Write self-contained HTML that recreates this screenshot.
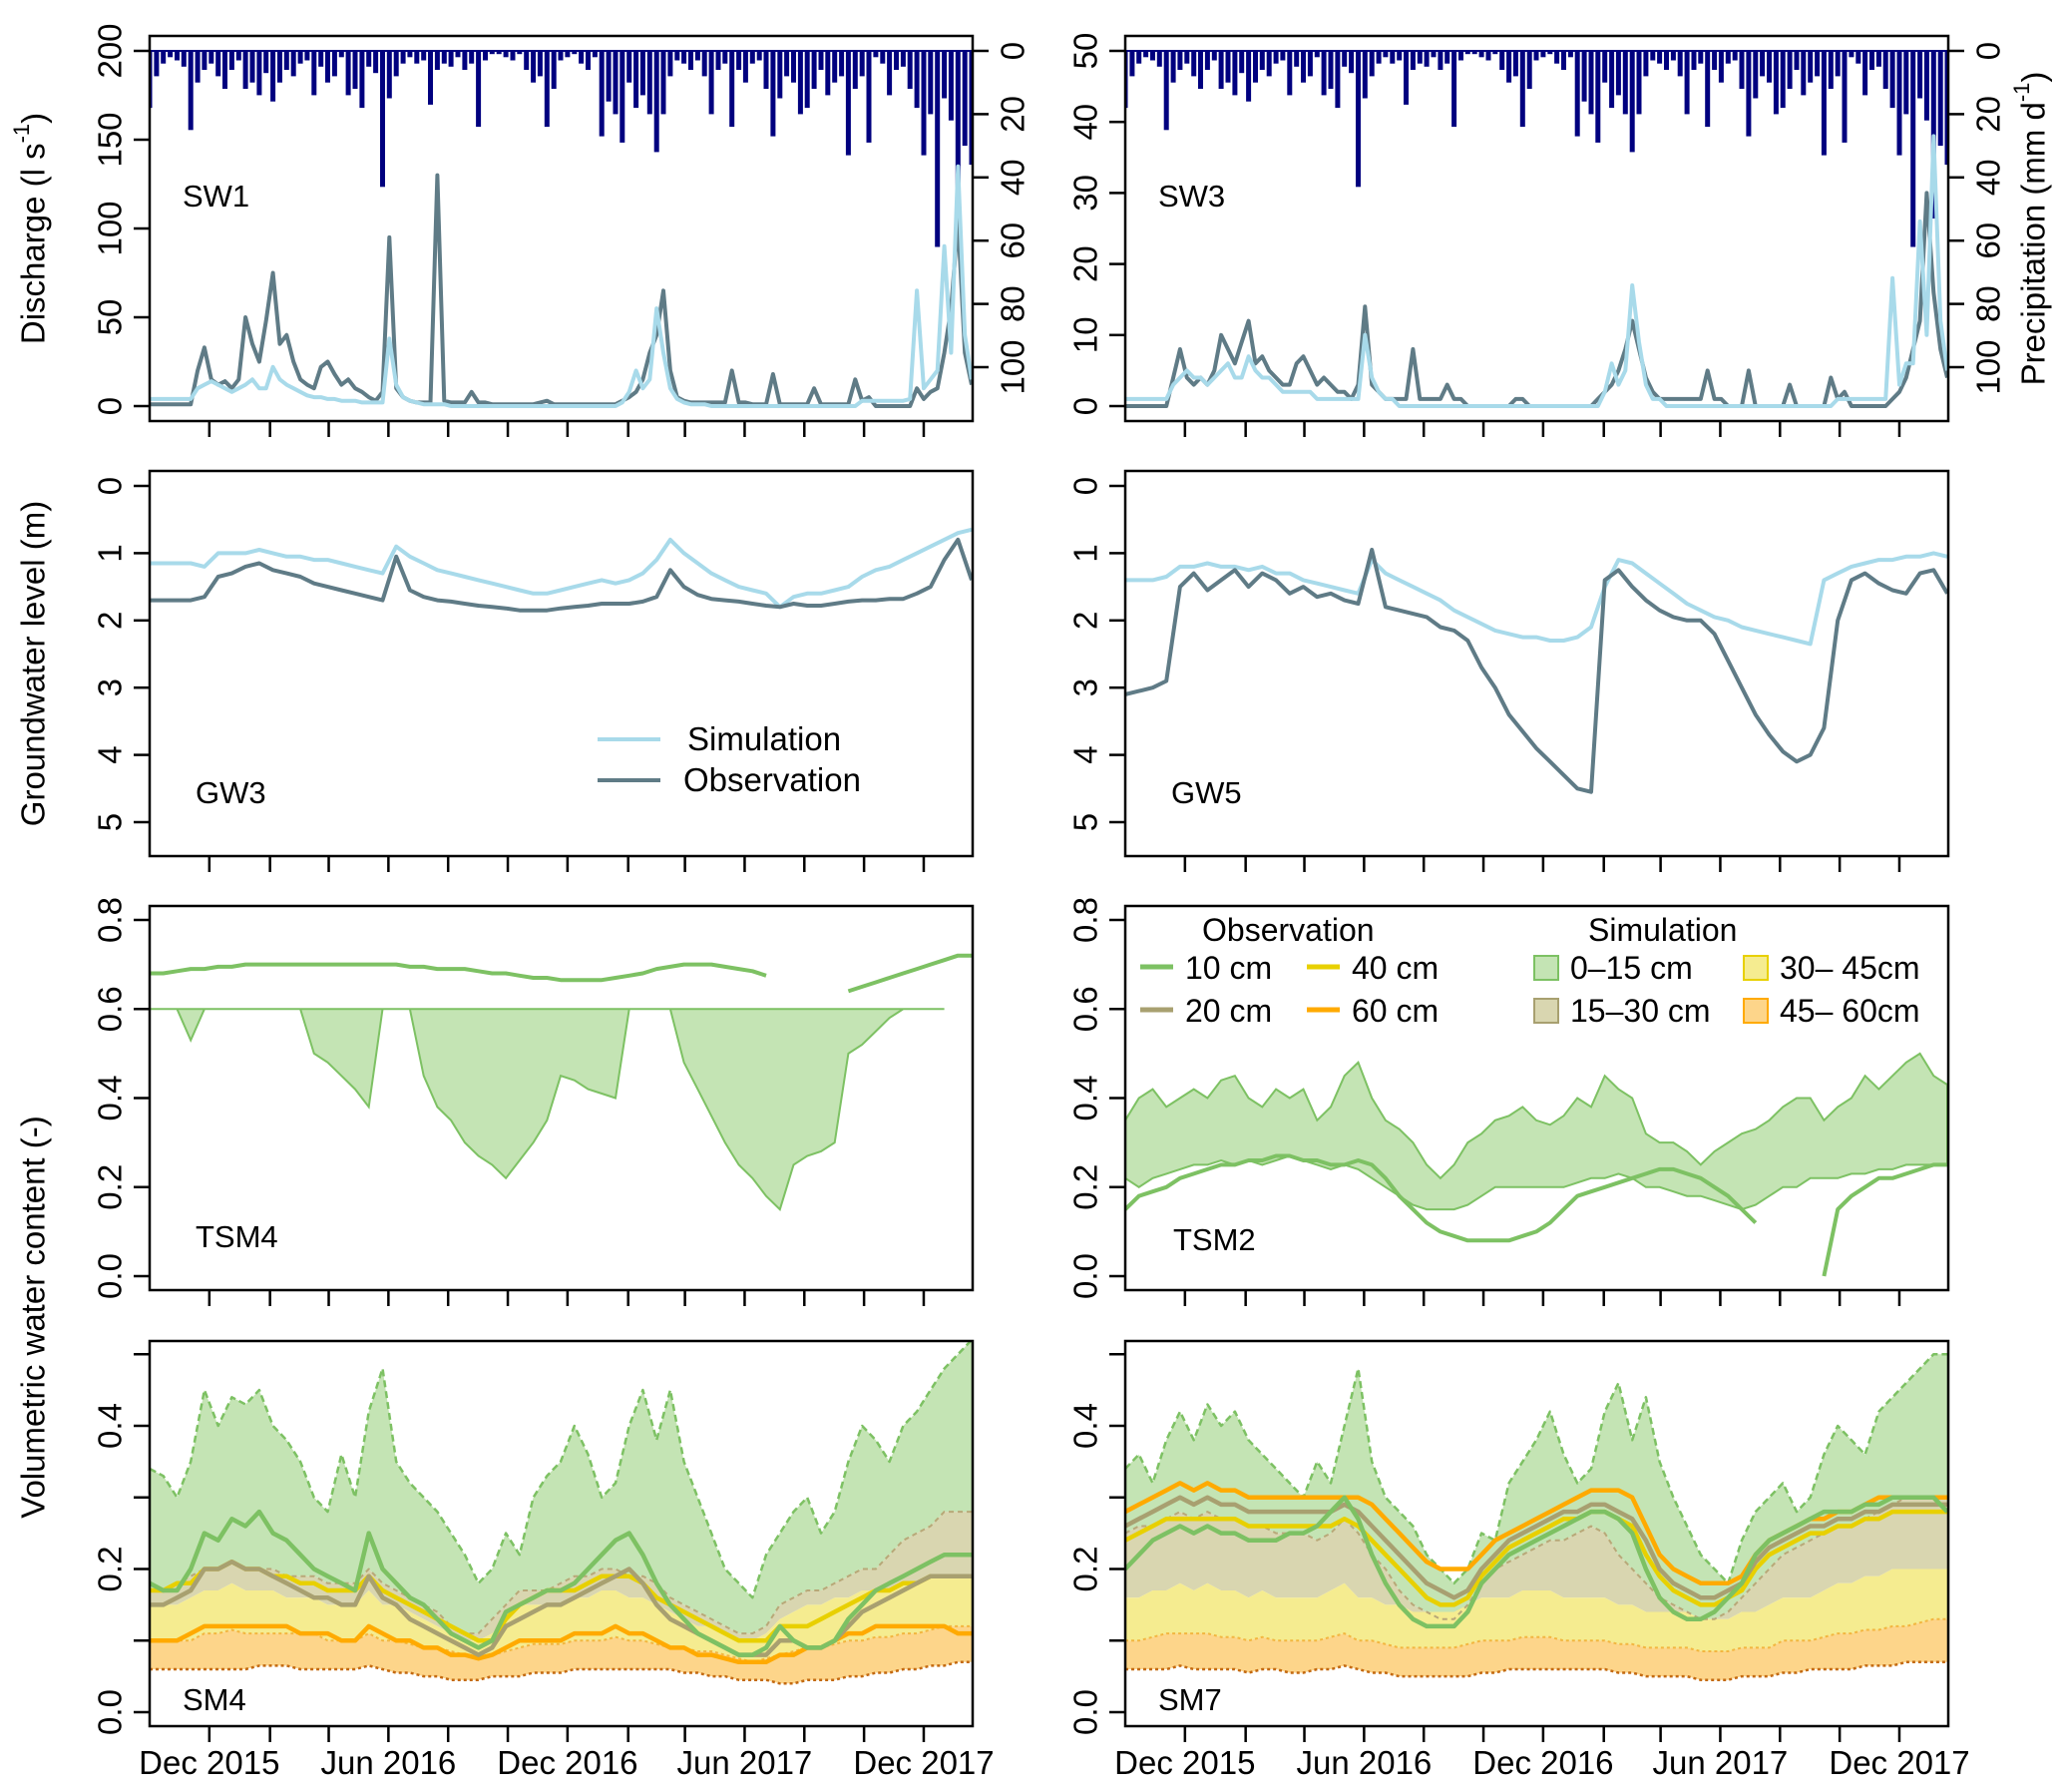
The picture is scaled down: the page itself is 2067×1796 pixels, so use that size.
<!DOCTYPE html>
<html><head><meta charset="utf-8"><style>
html,body{margin:0;padding:0;background:#fff;}
svg{display:block;font-family:"Liberation Sans",Arial,sans-serif;}
</style></head><body>
<svg id="fig" width="2067" height="1796" viewBox="0 0 2067 1796" xmlns="http://www.w3.org/2000/svg"></svg>
<script>
// ---- data (weekly from 1 Oct 2015) ----
const precip=[18,8,4,2,3,5,25,10,6,4,8,12,6,3,12,10,14,7,16,10,6,8,4,3,14,5,10,8,2,14,12,18,5,7,43,15,8,4,2,4,3,17,6,4,5,2,6,4,24,3,1,1,2,3,1,6,10,8,24,12,3,2,1,4,6,2,27,16,20,29,10,18,14,20,32,20,8,3,4,6,3,8,20,6,4,24,6,10,4,3,12,27,15,8,10,20,18,12,6,14,10,8,33,12,8,29,2,4,14,6,5,12,18,33,20,62,15,22,53,30,36];
const sw1Obs=[1,1,1,1,1,1,1,20,33,15,12,14,10,15,50,35,25,48,75,35,40,25,15,12,10,22,25,18,12,15,10,8,5,3,8,95,10,5,3,2,2,2,130,3,2,2,2,8,2,2,1,1,1,1,1,1,1,2,3,1,1,1,1,1,1,1,1,1,1,3,5,8,15,30,40,65,20,5,3,2,2,2,2,2,2,20,2,2,1,1,1,18,1,1,1,1,1,10,1,1,1,1,1,15,3,5,0,0,0,0,0,0,10,4,8,10,30,55,105,30,12];
const sw1Sim=[4,4,4,4,4,4,4,10,12,14,12,10,8,10,12,15,10,10,22,15,12,10,8,6,5,5,4,4,3,3,3,2,2,2,2,38,12,5,3,2,1,1,1,1,0,0,0,0,0,0,0,0,0,0,0,0,0,0,0,0,0,0,0,0,0,0,0,0,0,2,8,20,10,15,55,30,10,4,2,1,1,1,0,0,0,0,0,0,0,0,0,0,0,0,0,0,0,0,0,0,0,0,0,0,3,3,3,3,3,3,3,4,65,10,15,20,90,30,135,40,15];
const sw3Obs=[0,0,0,0,0,0,0,4,8,4,3,4,3,5,10,8,6,9,12,6,7,5,4,3,3,6,7,5,3,4,3,2,2,1,3,14,3,2,1,1,1,1,8,1,1,1,1,3,1,1,0,0,0,0,0,0,0,1,1,0,0,0,0,0,0,0,0,0,0,1,2,3,5,8,12,8,4,2,1,1,1,1,1,1,1,5,1,1,0,0,0,5,0,0,0,0,0,3,0,0,0,0,0,4,1,2,0,0,0,0,0,0,1,2,4,8,12,30,16,8,4];
const sw3Sim=[1,1,1,1,1,1,1,3,4,5,4,4,3,4,5,6,4,4,7,5,4,4,3,2,2,2,2,2,1,1,1,1,1,1,1,10,4,2,1,1,0,0,0,0,0,0,0,0,0,0,0,0,0,0,0,0,0,0,0,0,0,0,0,0,0,0,0,0,0,0,2,6,3,5,17,9,3,1,1,0,0,0,0,0,0,0,0,0,0,0,0,0,0,0,0,0,0,0,0,0,0,0,0,0,1,1,1,1,1,1,1,1,18,3,6,6,26,10,38,12,5];
// ---- data (fortnightly from 1 Oct 2015) ----
const gw3Sim=[1.15,1.15,1.15,1.15,1.2,1.0,1.0,1.0,0.95,1.0,1.05,1.05,1.1,1.1,1.15,1.2,1.25,1.3,0.9,1.05,1.15,1.25,1.3,1.35,1.4,1.45,1.5,1.55,1.6,1.6,1.55,1.5,1.45,1.4,1.45,1.4,1.3,1.1,0.8,1.0,1.15,1.3,1.4,1.5,1.55,1.6,1.8,1.65,1.6,1.6,1.55,1.5,1.35,1.25,1.2,1.1,1.0,0.9,0.8,0.7,0.65];
const gw3Obs=[1.7,1.7,1.7,1.7,1.65,1.35,1.3,1.2,1.15,1.25,1.3,1.35,1.45,1.5,1.55,1.6,1.65,1.7,1.05,1.55,1.65,1.7,1.72,1.75,1.78,1.8,1.82,1.85,1.85,1.85,1.82,1.8,1.78,1.75,1.75,1.75,1.72,1.65,1.25,1.5,1.62,1.68,1.7,1.72,1.75,1.78,1.8,1.75,1.78,1.78,1.75,1.72,1.7,1.7,1.68,1.68,1.6,1.5,1.1,0.8,1.4];
const gw5Sim=[1.4,1.4,1.4,1.35,1.2,1.2,1.15,1.2,1.2,1.25,1.2,1.3,1.3,1.4,1.45,1.5,1.55,1.6,1.1,1.3,1.4,1.5,1.6,1.7,1.85,1.95,2.05,2.15,2.2,2.25,2.25,2.3,2.3,2.25,2.1,1.5,1.1,1.15,1.3,1.45,1.6,1.75,1.85,1.95,2.0,2.1,2.15,2.2,2.25,2.3,2.35,1.4,1.3,1.2,1.15,1.1,1.1,1.05,1.05,1.0,1.05];
const gw5Obs=[3.1,3.05,3.0,2.9,1.5,1.3,1.55,1.4,1.25,1.5,1.3,1.4,1.6,1.5,1.65,1.6,1.7,1.75,0.95,1.8,1.85,1.9,1.95,2.1,2.15,2.3,2.7,3.0,3.4,3.65,3.9,4.1,4.3,4.5,4.55,1.4,1.25,1.5,1.7,1.85,1.95,2.0,2.0,2.2,2.6,3.0,3.4,3.7,3.95,4.1,4.0,3.6,2.0,1.4,1.3,1.45,1.55,1.6,1.3,1.25,1.6];
const tsm4Obs=[.68,.68,.685,.69,.69,.695,.695,.7,.7,.7,.7,.7,.7,.7,.7,.7,.7,.7,.7,.695,.695,.69,.69,.69,.685,.68,.68,.675,.67,.67,.665,.665,.665,.665,.67,.675,.68,.69,.695,.7,.7,.7,.695,.69,.685,.675,null,null,null,null,null,.64,.65,.66,.67,.68,.69,.70,.71,.72,.72];
const tsm4SimTop=[.6,.6,.6,.6,.6,.6,.6,.6,.6,.6,.6,.6,.6,.6,.6,.6,.6,.6,.6,.6,.6,.6,.6,.6,.6,.6,.6,.6,.6,.6,.6,.6,.6,.6,.6,.6,.6,.6,.6,.6,.6,.6,.6,.6,.6,.6,.6,.6,.6,.6,.6,.6,.6,.6,.6,.6,.6,.6,.6,null,null];
const tsm4SimLow=[.6,.6,.6,.53,.6,.6,.6,.6,.6,.6,.6,.6,.5,.48,.45,.42,.38,.6,.6,.6,.45,.38,.35,.3,.27,.25,.22,.26,.3,.35,.45,.44,.42,.41,.40,.6,.6,.6,.6,.48,.42,.36,.30,.25,.22,.18,.15,.25,.27,.28,.30,.5,.52,.55,.58,.6,.6,.6,.6,null,null];
const tsm2SimTop=[.35,.4,.42,.38,.4,.42,.4,.44,.45,.4,.38,.42,.4,.42,.35,.38,.45,.48,.4,.35,.33,.3,.25,.22,.25,.3,.32,.35,.36,.38,.35,.34,.36,.4,.38,.45,.42,.4,.32,.3,.3,.28,.25,.28,.3,.32,.33,.35,.38,.4,.4,.35,.38,.4,.45,.42,.45,.48,.5,.45,.43];
const tsm2SimLow=[.22,.2,.22,.23,.24,.25,.25,.26,.25,.26,.25,.26,.27,.26,.25,.24,.25,.24,.22,.2,.18,.16,.15,.15,.15,.16,.18,.2,.2,.2,.2,.2,.2,.21,.22,.22,.23,.22,.2,.2,.19,.18,.18,.17,.16,.15,.16,.18,.2,.2,.22,.22,.22,.23,.23,.24,.24,.25,.25,.25,.25];
const tsm2Obs=[.15,.18,.19,.2,.22,.23,.24,.25,.25,.26,.26,.27,.27,.26,.26,.25,.25,.26,.25,.22,.18,.15,.12,.1,.09,.08,.08,.08,.08,.09,.1,.12,.15,.18,.19,.2,.21,.22,.23,.24,.24,.23,.22,.2,.18,.15,.12,null,null,null,null,.0,.15,.18,.2,.22,.22,.23,.24,.25,.25];
const sm4Lo=[.06,.06,.06,.06,.06,.06,.06,.06,.065,.065,.065,.06,.06,.06,.06,.06,.065,.06,.055,.055,.05,.05,.045,.045,.045,.05,.05,.05,.055,.055,.055,.06,.06,.06,.06,.06,.06,.06,.06,.055,.055,.05,.05,.045,.045,.045,.04,.04,.045,.045,.045,.05,.05,.055,.055,.06,.06,.065,.065,.07,.07];
const sm4S60=[.1,.1,.1,.1,.11,.11,.115,.11,.11,.11,.11,.11,.11,.1,.1,.1,.11,.1,.1,.095,.09,.09,.085,.08,.075,.08,.085,.09,.095,.095,.095,.1,.1,.1,.105,.1,.1,.095,.09,.09,.085,.085,.08,.075,.07,.075,.08,.085,.09,.09,.095,.1,.1,.105,.105,.11,.11,.115,.12,.12,.12];
const sm4S45=[.15,.15,.15,.16,.17,.17,.18,.17,.17,.17,.16,.16,.16,.15,.15,.15,.17,.15,.15,.14,.13,.12,.11,.1,.1,.11,.13,.15,.15,.15,.15,.16,.16,.17,.17,.16,.16,.15,.14,.13,.12,.12,.11,.1,.1,.11,.13,.14,.15,.15,.16,.16,.17,.17,.17,.18,.18,.19,.19,.19,.19];
const sm4S30=[.17,.17,.18,.19,.2,.2,.21,.2,.2,.2,.19,.19,.19,.18,.18,.18,.2,.18,.17,.16,.15,.14,.12,.11,.11,.13,.15,.17,.17,.17,.18,.19,.19,.2,.2,.19,.19,.18,.16,.15,.14,.13,.12,.11,.11,.12,.15,.16,.17,.17,.18,.19,.2,.2,.22,.24,.25,.26,.28,.28,.28];
const sm4S15=[.34,.33,.3,.35,.45,.4,.44,.43,.45,.4,.38,.35,.3,.28,.36,.3,.42,.48,.35,.32,.3,.28,.25,.22,.18,.2,.25,.22,.3,.33,.35,.4,.36,.3,.32,.4,.45,.38,.45,.35,.3,.25,.2,.18,.16,.22,.25,.28,.3,.25,.28,.35,.4,.38,.35,.4,.42,.45,.48,.5,.52];
const sm4O10=[.18,.17,.17,.2,.25,.24,.27,.26,.28,.25,.24,.22,.2,.19,.18,.17,.25,.2,.18,.16,.15,.13,.11,.1,.09,.1,.14,.15,.16,.17,.17,.18,.2,.22,.24,.25,.22,.18,.15,.13,.11,.1,.09,.08,.08,.09,.12,.1,.09,.09,.1,.13,.15,.17,.18,.19,.2,.21,.22,.22,.22];
const sm4O20=[.15,.15,.16,.17,.2,.2,.21,.2,.2,.19,.18,.17,.16,.16,.15,.15,.19,.16,.15,.13,.12,.11,.1,.09,.08,.09,.12,.13,.14,.15,.15,.16,.17,.18,.19,.2,.18,.15,.13,.12,.11,.1,.09,.08,.08,.08,.1,.1,.09,.09,.1,.12,.14,.15,.16,.17,.18,.19,.19,.19,.19];
const sm4O40=[.17,.17,.18,.18,.2,.2,.21,.2,.2,.19,.19,.18,.18,.17,.17,.17,.19,.17,.16,.15,.14,.13,.12,.11,.1,.1,.13,.15,.16,.17,.17,.17,.18,.19,.19,.19,.18,.16,.15,.14,.13,.12,.11,.1,.1,.1,.12,.12,.12,.13,.14,.15,.16,.17,.17,.18,.18,.19,.19,.19,.19];
const sm4O60=[.1,.1,.1,.11,.12,.12,.12,.12,.12,.12,.12,.11,.11,.11,.1,.1,.12,.11,.1,.1,.09,.09,.08,.08,.075,.08,.09,.1,.1,.1,.1,.11,.11,.11,.12,.11,.11,.1,.09,.09,.08,.08,.075,.07,.07,.07,.08,.08,.09,.09,.1,.11,.11,.12,.12,.12,.12,.12,.12,.11,.11];
const sm7Lo=[.06,.06,.06,.06,.065,.06,.06,.06,.06,.055,.06,.06,.055,.055,.06,.06,.065,.06,.055,.055,.05,.05,.05,.05,.05,.05,.055,.055,.06,.06,.06,.06,.06,.06,.06,.06,.055,.055,.05,.05,.05,.05,.045,.045,.045,.05,.05,.05,.055,.055,.06,.06,.06,.06,.065,.065,.065,.07,.07,.07,.07];
const sm7S60=[.1,.1,.105,.11,.11,.11,.11,.105,.105,.1,.105,.1,.1,.1,.1,.105,.11,.1,.1,.095,.09,.09,.09,.09,.09,.095,.1,.1,.1,.105,.105,.105,.1,.1,.1,.1,.095,.095,.09,.09,.09,.09,.085,.085,.085,.09,.09,.09,.1,.1,.1,.105,.11,.11,.115,.115,.12,.12,.125,.13,.13];
const sm7S45=[.16,.16,.17,.17,.18,.17,.18,.17,.17,.16,.17,.16,.16,.16,.16,.17,.18,.16,.16,.15,.15,.14,.14,.14,.14,.15,.16,.16,.16,.17,.17,.17,.16,.16,.16,.16,.15,.15,.14,.14,.14,.14,.13,.13,.13,.14,.14,.15,.16,.16,.16,.17,.18,.18,.19,.19,.2,.2,.2,.2,.2];
const sm7S30=[.25,.26,.26,.27,.28,.27,.28,.27,.27,.26,.26,.25,.25,.25,.24,.25,.27,.25,.22,.2,.17,.15,.14,.13,.13,.15,.18,.2,.21,.22,.23,.24,.24,.25,.26,.25,.22,.2,.18,.16,.15,.14,.13,.13,.14,.16,.18,.2,.22,.23,.24,.25,.26,.26,.27,.28,.29,.3,.3,.3,.3];
const sm7S15=[.34,.36,.32,.38,.42,.38,.43,.4,.42,.38,.36,.34,.32,.3,.35,.32,.4,.48,.35,.3,.28,.26,.22,.2,.18,.2,.25,.24,.32,.35,.38,.42,.36,.32,.34,.42,.46,.38,.44,.35,.3,.26,.22,.2,.18,.24,.28,.3,.32,.28,.3,.36,.4,.38,.36,.42,.44,.46,.48,.5,.5];
const sm7O60=[.28,.29,.3,.31,.32,.31,.32,.31,.31,.3,.3,.3,.3,.3,.3,.3,.3,.3,.29,.27,.25,.23,.21,.2,.2,.2,.22,.24,.25,.26,.27,.28,.29,.3,.31,.31,.31,.3,.26,.22,.2,.19,.18,.18,.18,.19,.22,.24,.25,.26,.27,.27,.28,.28,.29,.3,.3,.3,.3,.3,.3];
const sm7O20=[.26,.27,.28,.29,.3,.29,.3,.29,.29,.28,.28,.28,.28,.28,.28,.28,.29,.28,.26,.24,.22,.2,.18,.17,.16,.17,.2,.22,.24,.25,.26,.27,.28,.28,.29,.29,.28,.27,.24,.2,.18,.17,.16,.16,.17,.18,.21,.23,.24,.25,.26,.26,.27,.27,.28,.28,.29,.29,.29,.29,.29];
const sm7O40=[.24,.25,.26,.27,.27,.27,.27,.27,.27,.26,.26,.26,.26,.26,.26,.26,.27,.26,.24,.22,.2,.18,.16,.15,.15,.16,.19,.21,.23,.24,.25,.26,.27,.27,.28,.28,.27,.26,.22,.19,.17,.16,.15,.15,.16,.17,.2,.22,.23,.24,.25,.25,.26,.26,.27,.27,.28,.28,.28,.28,.28];
const sm7O10=[.2,.22,.24,.25,.26,.25,.26,.25,.25,.24,.24,.24,.25,.25,.26,.28,.3,.27,.22,.18,.15,.13,.12,.12,.12,.14,.18,.2,.22,.23,.24,.25,.26,.27,.28,.28,.27,.25,.2,.16,.14,.13,.13,.14,.16,.18,.22,.24,.25,.26,.27,.28,.28,.28,.29,.29,.3,.3,.3,.3,.28];
const tickDays=[61,123,183,244,305,366,427,489,547,608,669,730,791];
const xLabels=[[0,'Dec 2015'],[3,'Jun 2016'],[6,'Dec 2016'],[9,'Jun 2017'],[12,'Dec 2017']];

const NS='http://www.w3.org/2000/svg';
const svg=document.getElementById('fig');
function mk(tag,attrs,parent){const e=document.createElementNS(NS,tag);for(const k in attrs)e.setAttribute(k,attrs[k]);(parent||svg).appendChild(e);return e;}
const cols=[{x0:150,x1:975},{x0:1128,x1:1953}];
const rows=[{t:36,b:422},{t:472,b:858},{t:908,b:1293},{t:1344,b:1730}];
const PXD=0.981;
function X(c,day){return cols[c].x0+day*PXD;}
function lin(v0,p0,v1,p1){return v=>p0+(v-v0)*(p1-p0)/(v1-v0);}
let clipN=0;
function panelGroup(c,r,name){
  const id='clip'+(clipN++);
  const cp=mk('clipPath',{id:id});
  mk('rect',{x:cols[c].x0,y:rows[r].t,width:cols[c].x1-cols[c].x0,height:rows[r].b-rows[r].t},cp);
  const g=mk('g',{'clip-path':'url(#'+id+')'});
  
  
  return g;
}
function linePts(c,arr,step,ys){const segs=[];let cur=[];arr.forEach((v,i)=>{if(v===null||v===undefined){if(cur.length)segs.push(cur);cur=[];}else cur.push(X(c,i*step).toFixed(1)+','+ys(v).toFixed(1));});if(cur.length)segs.push(cur);return segs;}
function drawLine(g,c,arr,step,ys,color,w,name,dash){
  linePts(c,arr,step,ys).forEach(s=>{const p=mk('polyline',{points:s.join(' '),fill:'none',stroke:color,'stroke-width':w,'stroke-linejoin':'round'},g);if(dash)p.setAttribute('stroke-dasharray',dash);
  
  });
}
function drawBand(g,c,up,lo,step,ys,fill,stroke,name){
  let top=[],bot=[];
  const flush=()=>{if(top.length){const p=mk('polygon',{points:top.concat(bot.reverse()).join(' '),fill:fill,stroke:stroke||'none','stroke-width':2},g);
  
  }top=[];bot=[];};
  up.forEach((v,i)=>{const l=lo[i];if(v===null||l===null||v===undefined||l===undefined){flush();return;}const x=X(c,i*step).toFixed(1);top.push(x+','+ys(v).toFixed(1));bot.push(x+','+ys(l).toFixed(1));});
  flush();
}
function frame(c,r,name){const f=mk('rect',{x:cols[c].x0,y:rows[r].t,width:cols[c].x1-cols[c].x0,height:rows[r].b-rows[r].t,fill:'none',stroke:'#000','stroke-width':2.5});
  
  
  tickDays.forEach(d=>{const t=mk('line',{x1:X(c,d),x2:X(c,d),y1:rows[r].b,y2:rows[r].b+16,stroke:'#000','stroke-width':2.5});
  
  });
}
function yAxis(c,ticks,labels,ys,side){
  const x=side==='r'?cols[c].x1:cols[c].x0;
  const dir=side==='r'?1:-1;
  ticks.forEach((v,i)=>{const y=ys(v);const t=mk('line',{x1:x,x2:x+dir*16,y1:y,y2:y,stroke:'#000','stroke-width':2.5});
  
  
  if(labels[i]!==''){const lx=x+dir*40;const tx=mk('text',{x:lx,y:y,'font-size':33,'text-anchor':'middle','dominant-baseline':'central',transform:'rotate(-90 '+lx+' '+y+')'});tx.textContent=labels[i];
  
  }});
}
function label(x,y,txt,name,size){const t=mk('text',{x:x,y:y,'font-size':size||31});t.textContent=txt;
  
  return t;}

const P0=51,PS=3.17;
const pys=v=>P0+v*PS;
// ---- Row 1: discharge ----
[[0,sw1Obs,sw1Sim,lin(0,407,200,51),[0,50,100,150,200],'SW1'],[1,sw3Obs,sw3Sim,lin(0,407,50,51),[0,10,20,30,40,50],'SW3']].forEach(([c,obs,sim,ys,tk,nm])=>{
  const g=panelGroup(c,0,nm.toLowerCase()+'-panel');
  precip.forEach((p,i)=>{const x=X(c,i*7);const b=mk('rect',{x:(x-2.5).toFixed(1),y:P0,width:5,height:(p*PS).toFixed(1),fill:'#00007f'},g);
  
  });
  mk('line',{x1:cols[c].x0,x2:cols[c].x1,y1:P0,y2:P0,stroke:'#00007f','stroke-width':2},g);
  drawLine(g,c,obs,7,ys,'#5f7b86',4,'observed-discharge');
  drawLine(g,c,sim,7,ys,'#a8daea',4,'simulated-discharge');
  frame(c,0,nm.toLowerCase()+'-frame');
  yAxis(c,tk,tk.map(String),ys,'l');
  yAxis(c,[0,20,40,60,80,100],['0','20','40','60','80','100'],pys,'r');
  label(cols[c].x0+33,207,nm,'panel-label-'+nm.toLowerCase());
});
// ---- Row 2: groundwater ----
const gys=lin(0,487,5,824);
[[0,gw3Obs,gw3Sim,'GW3'],[1,gw5Obs,gw5Sim,'GW5']].forEach(([c,obs,sim,nm])=>{
  const g=panelGroup(c,1,nm.toLowerCase()+'-panel');
  drawLine(g,c,sim,14,gys,'#a8daea',4,'simulated-gw-level');
  drawLine(g,c,obs,14,gys,'#5f7b86',4,'observed-gw-level');
  frame(c,1,nm.toLowerCase()+'-frame');
  yAxis(c,[0,1,2,3,4,5],['0','1','2','3','4','5'],gys,'l');
  label(cols[c].x0+46,805,nm,'panel-label-'+nm.toLowerCase());
});
(function(){const g=mk('g',{});
  mk('line',{x1:599,x2:662,y1:741,y2:741,stroke:'#a8daea','stroke-width':4},g);
  mk('line',{x1:599,x2:662,y1:782,y2:782,stroke:'#5f7b86','stroke-width':4},g);
  const a=mk('text',{x:689,y:752,'font-size':33},g);a.textContent='Simulation';
  const b=mk('text',{x:685,y:793,'font-size':33},g);b.textContent='Observation';
})();
// ---- Row 3: TSM ----
const tys=lin(0,1279,0.8,922);
(function(){const g=panelGroup(0,2,'tsm4-panel');
  drawBand(g,0,tsm4SimTop,tsm4SimLow,14,tys,'#c4e4b4','#7dc163','sim-band-0-15');
  drawLine(g,0,tsm4Obs,14,tys,'#7dc163',4,'observed-10cm');
  frame(0,2,'tsm4-frame');
  yAxis(0,[0,.2,.4,.6,.8],['0.0','0.2','0.4','0.6','0.8'],tys,'l');
  label(196,1250,'TSM4','panel-label-tsm4');
  const g2=panelGroup(1,2,'tsm2-panel');
  drawBand(g2,1,tsm2SimTop,tsm2SimLow,14,tys,'#c4e4b4','#7dc163','sim-band-0-15');
  drawLine(g2,1,tsm2Obs,14,tys,'#7dc163',4,'observed-10cm');
  frame(1,2,'tsm2-frame');
  yAxis(1,[0,.2,.4,.6,.8],['0.0','0.2','0.4','0.6','0.8'],tys,'l');
  label(1176,1253,'TSM2','panel-label-tsm2');
})();
(function(){const g=mk('g',{});
  const T=(x,y,s,n)=>{const t=mk('text',{x:x,y:y,'font-size':32},g);t.textContent=s;};
  T(1205,943,'Observation','legend-title-observation');T(1592,943,'Simulation','legend-title-simulation');
  const L=(x,y,col,s,n)=>{mk('line',{x1:x,x2:x+33,y1:y,y2:y,stroke:col,'stroke-width':5},g);T(x+45,y+12,s,n);};
  L(1143,969,'#7dc163','10 cm','legend-obs-10cm');L(1310,969,'#e8d000','40 cm','legend-obs-40cm');
  L(1143,1012,'#a8a070','20 cm','legend-obs-20cm');L(1310,1012,'#ffaa00','60 cm','legend-obs-60cm');
  const S=(x,y,f,s,st,n)=>{mk('rect',{x:x,y:y-11,width:24,height:24,fill:f,stroke:s,'stroke-width':2},g);T(x+36,y+12,st,n);};
  S(1538,969,'#c4e4b4','#7dc163','0–15 cm','legend-sim-0-15');S(1748,969,'#f5ec90','#e8d000','30– 45cm','legend-sim-30-45');
  S(1538,1012,'#d9d6b0','#a8a070','15–30 cm','legend-sim-15-30');S(1748,1012,'#fdd58a','#ffaa00','45– 60cm','legend-sim-45-60');
})();
// ---- Row 4: SM ----
const sys=lin(0,1716,0.4,1429);
[[0,sm4Lo,sm4S60,sm4S45,sm4S30,sm4S15,sm4O10,sm4O20,sm4O40,sm4O60,'SM4'],[1,sm7Lo,sm7S60,sm7S45,sm7S30,sm7S15,sm7O10,sm7O20,sm7O40,sm7O60,'SM7']].forEach(([c,lo,s60,s45,s30,s15,o10,o20,o40,o60,nm])=>{
  const g=panelGroup(c,3,nm.toLowerCase()+'-panel');
  drawBand(g,c,s15,s30,14,sys,'#c4e4b4',null,'sim-band-0-15');
  drawBand(g,c,s30,s45,14,sys,'#d9d6b0',null,'sim-band-15-30');
  drawBand(g,c,s45,s60,14,sys,'#f5ec90',null,'sim-band-30-45');
  drawBand(g,c,s60,lo,14,sys,'#fdd58a',null,'sim-band-45-60');
  drawLine(g,c,s15,14,sys,'#7dc163',2.5,'sim-0-15-top','7 4');
  drawLine(g,c,s30,14,sys,'#b8a878',2,'sim-15-30-top','5 4');
  drawLine(g,c,s60,14,sys,'#f2b640',2,'sim-45-60-top','3 3');
  drawLine(g,c,lo,14,sys,'#c46a10',2.5,'sim-45-60-bottom','3 3');
  drawLine(g,c,o60,14,sys,'#ffaa00',4.5,'observed-60cm');
  drawLine(g,c,o40,14,sys,'#e8d000',4.5,'observed-40cm');
  drawLine(g,c,o20,14,sys,'#a8a070',4.5,'observed-20cm');
  drawLine(g,c,o10,14,sys,'#7dc163',4.5,'observed-10cm');
  frame(c,3,nm.toLowerCase()+'-frame');
  yAxis(c,[0,.1,.2,.3,.4,.5],['0.0','','0.2','','0.4',''],sys,'l');
  label(cols[c].x0+33,1714,nm,'panel-label-'+nm.toLowerCase());
  xLabels.forEach(([i,s])=>{const t=mk('text',{x:X(c,tickDays[i]).toFixed(1),y:1778,'font-size':33,'text-anchor':'middle'});t.textContent=s;
  
  });
});
function vtitle(x,y,html,name,rot){const t=mk('text',{x:x,y:y,'font-size':33,'text-anchor':'middle','dominant-baseline':'central',transform:'rotate('+(rot||-90)+' '+x+' '+y+')'});t.innerHTML=html;
  
  }
vtitle(33,229,'Discharge (l s<tspan dy="-12" font-size="22">-1</tspan><tspan dy="12">)</tspan>','y-axis-title-discharge');
vtitle(33,665,'Groundwater level (m)','y-axis-title-groundwater');
vtitle(33,1320,'Volumetric water content (-)','y-axis-title-vwc');
vtitle(2038,229,'Precipitation (mm d<tspan dy="-12" font-size="22">-1</tspan><tspan dy="12">)</tspan>','y-axis-title-precipitation');
</script>
</body></html>
